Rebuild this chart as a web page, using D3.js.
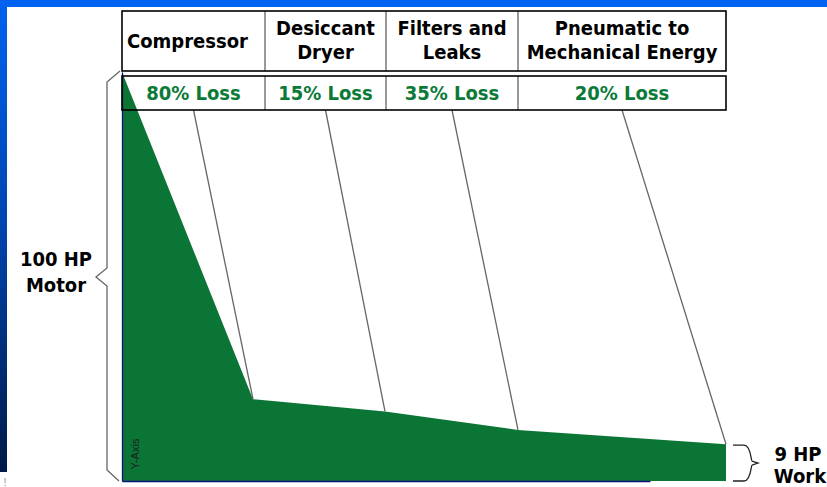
<!DOCTYPE html>
<html>
<head>
<meta charset="utf-8">
<script src="https://cdn.jsdelivr.net/npm/d3@7"></script>
<style>
  html, body { margin: 0; padding: 0; background: #ffffff; }
  svg { display: block; }
  .hdr { font-family: "DejaVu Sans Condensed", "DejaVu Sans", sans-serif; font-weight: bold; font-size: 20px; fill: #000; }
  .loss { font-family: "DejaVu Sans Condensed", "DejaVu Sans", sans-serif; font-weight: bold; font-size: 20px; fill: #0b7a37; }
  .side { font-family: "DejaVu Sans Condensed", "DejaVu Sans", sans-serif; font-weight: bold; font-size: 20px; fill: #000; }
</style>
</head>
<body>
<svg id="chart" width="827" height="487"></svg>
<script>
// Power remaining after each stage of a compressed-air system
const stages = ["Motor", "Compressor", "Desiccant Dryer", "Filters and Leaks", "Pneumatic to Mechanical Energy"];
const headerLines = [["Compressor"], ["Desiccant", "Dryer"], ["Filters and", "Leaks"], ["Pneumatic to", "Mechanical Energy"]];
const lossPct = [80, 15, 35, 20];
const hpRemaining = [100, 20, 17, 12.5, 9];
const inputLabel = ["100 HP", "Motor"];
const outputLabel = ["9 HP", "Work"];
const axisLabel = "Y-Axis";

const W = 827, H = 487;
const svg = d3.select("#chart");

// Frame: blue band along the top and a fading bar down the left edge
const defs = svg.append("defs");
const grad = defs.append("linearGradient").attr("id", "sideGrad")
  .attr("x1", 0).attr("y1", 0).attr("x2", 0).attr("y2", 1);
grad.append("stop").attr("offset", 0).attr("stop-color", "#0062f0");
grad.append("stop").attr("offset", 0.45).attr("stop-color", "#0046b4");
grad.append("stop").attr("offset", 1).attr("stop-color", "#001a46");
svg.append("rect").attr("x", 0).attr("y", 0).attr("width", 7).attr("height", 472).attr("fill", "url(#sideGrad)");
svg.append("rect").attr("x", 0).attr("y", 0).attr("width", W).attr("height", 7).attr("fill", "#0062f0");
svg.append("text").attr("x", 5).attr("y", 486).attr("text-anchor", "middle")
  .attr("font-family", "Liberation Sans, sans-serif").attr("font-size", 11).attr("fill", "#9a9a9a").text("!");

// Scales
const y = d3.scaleLinear().domain([0, 100]).range([481, 72]);
const x = d3.scaleLinear().domain(d3.range(stages.length)).range([122, 253, 385, 518, 726]);
const colEdges = [122, 265, 386, 518, 726];

// Remaining power as a filled area
const area = d3.area()
  .x((d, i) => x(i))
  .y0(y(0))
  .y1(d => y(d));
svg.append("path").datum(hpRemaining).attr("d", area).attr("fill", "#0b7536");

// Axes (no ticks)
const axL = svg.append("g").attr("transform", `translate(${x(0)},0)`)
  .call(d3.axisLeft(y).tickValues([]).tickSizeOuter(0));
axL.select(".domain").attr("stroke", "#10107a").attr("stroke-width", 1.3);
const xb = d3.scaleLinear().domain([0, 1]).range([x(0), 650]);
const axB = svg.append("g").attr("transform", `translate(0,${y(0)})`)
  .call(d3.axisBottom(xb).tickValues([]).tickSizeOuter(0));
axB.select(".domain").attr("stroke", "#10107a").attr("stroke-width", 1.3);

svg.append("text")
  .attr("transform", `translate(139,454) rotate(-90)`)
  .attr("text-anchor", "middle")
  .attr("font-family", "Liberation Sans, Arial, sans-serif")
  .attr("font-size", 11)
  .attr("fill", "#1c1c1c")
  .text(axisLabel);

// Leader lines from each loss label to the point where the loss is taken
lossPct.forEach((p, i) => {
  const cx = (colEdges[i] + colEdges[i + 1]) / 2;
  svg.append("line")
    .attr("x1", cx).attr("y1", 110)
    .attr("x2", x(i + 1)).attr("y2", y(hpRemaining[i + 1]))
    .attr("stroke", "#666").attr("stroke-width", 1.3);
});

// Header table
const hdrTop = 11, hdrBot = 71, lossTop = 76, lossBot = 110;
svg.append("rect").attr("x", colEdges[0]).attr("y", hdrTop)
  .attr("width", colEdges[4] - colEdges[0]).attr("height", hdrBot - hdrTop)
  .attr("fill", "#fff").attr("stroke", "none");
for (let i = 1; i < colEdges.length - 1; i++) {
  svg.append("line").attr("x1", colEdges[i]).attr("x2", colEdges[i])
    .attr("y1", hdrTop).attr("y2", hdrBot).attr("stroke", "#777").attr("stroke-width", 1.5);
  svg.append("line").attr("x1", colEdges[i]).attr("x2", colEdges[i])
    .attr("y1", lossTop).attr("y2", lossBot).attr("stroke", "#777").attr("stroke-width", 1.5);
}
svg.append("rect").attr("x", colEdges[0]).attr("y", hdrTop)
  .attr("width", colEdges[4] - colEdges[0]).attr("height", hdrBot - hdrTop)
  .attr("fill", "none").attr("stroke", "#000").attr("stroke-width", 1.6);
svg.append("rect").attr("x", colEdges[0]).attr("y", lossTop)
  .attr("width", colEdges[4] - colEdges[0]).attr("height", lossBot - lossTop)
  .attr("fill", "none").attr("stroke", "#000").attr("stroke-width", 1.6);

headerLines.forEach((lines, i) => {
  const cx = (colEdges[i] + colEdges[i + 1]) / 2;
  const t = svg.append("text").attr("class", "hdr").attr("text-anchor", "middle");
  if (lines.length === 1) {
    t.append("tspan").attr("x", cx - 6).attr("y", 48).text(lines[0]);
  } else {
    t.append("tspan").attr("x", cx).attr("y", 35).text(lines[0]);
    t.append("tspan").attr("x", cx).attr("y", 59).text(lines[1]);
  }
});

lossPct.forEach((p, i) => {
  const cx = (colEdges[i] + colEdges[i + 1]) / 2;
  svg.append("text").attr("class", "loss").attr("text-anchor", "middle")
    .attr("x", cx).attr("y", 100).text(`${p}% Loss`);
});

// Brace for the motor input
svg.append("path")
  .attr("d", "M120,71 L107,82 L107,268 L96,277 L107,286 L107,470 L119,481")
  .attr("fill", "none").attr("stroke", "#666").attr("stroke-width", 1.3);
const inL = svg.append("text").attr("class", "side").attr("text-anchor", "middle");
inL.append("tspan").attr("x", 56).attr("y", 266).text(inputLabel[0]);
inL.append("tspan").attr("x", 56).attr("y", 292).text(inputLabel[1]);

// Brace for the work output
const yTop = y(hpRemaining[hpRemaining.length - 1]) + 1, yBot = y(0);
const yMid = (yTop + yBot) / 2;
svg.append("path")
  .attr("d", `M733,${yTop} L744,${yTop} C751,${yTop} 751,${yMid - 2} 752,${yMid - 2} L758,${yMid}
              L752,${yMid + 2} C751,${yMid + 2} 751,${yBot} 744,${yBot} L733,${yBot}`)
  .attr("fill", "none").attr("stroke", "#222").attr("stroke-width", 1.3);
const outL = svg.append("text").attr("class", "side").attr("text-anchor", "middle");
outL.append("tspan").attr("x", 798).attr("y", 461).text(outputLabel[0]);
outL.append("tspan").attr("x", 800).attr("y", 483).text(outputLabel[1]);
</script>
</body>
</html>
